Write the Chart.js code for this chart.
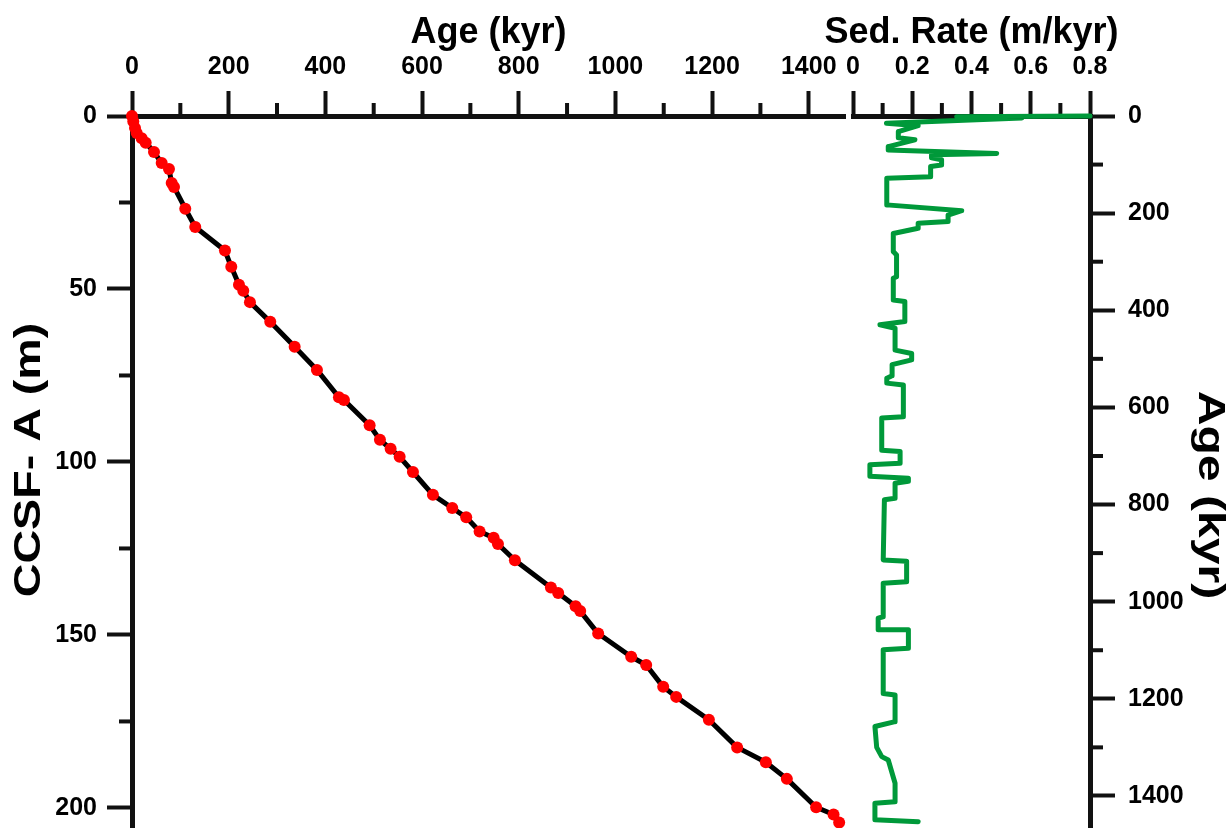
<!DOCTYPE html>
<html><head><meta charset="utf-8">
<script src="https://cdn.jsdelivr.net/npm/chart.js@4.4.0/dist/chart.umd.min.js"></script>
<style>
html,body{margin:0;padding:0;background:#fff;width:1229px;height:828px;overflow:hidden;}
.box{position:absolute;top:0;}
</style></head><body>
<div class="box" style="left:0;width:850px;height:828px"><canvas id="c1" width="850" height="828"></canvas></div>
<div class="box" style="left:800px;width:429px;height:828px"><canvas id="c2" width="429" height="828"></canvas></div>
<script>
// Age model tie points: age (kyr) vs depth CCSF-A (m)
const tieAge = [0, 2.7, 6.2, 9.7, 20, 28.3, 45.5, 61.4, 76.5, 82.1, 86.9, 110.2, 130.9, 192.3, 205.4, 221.3, 230.2, 244, 286, 336.5, 382.6, 428.1, 438.5, 491.6, 512.9, 535, 553.7, 581.2, 622.5, 662.5, 691.4, 719.1, 748.1, 757, 792.1, 866.6, 881.7, 917.7, 927.2, 964.4, 1032.7, 1063.7, 1098.9, 1125.8, 1193.4, 1251.9, 1311.3, 1354.7, 1415.3, 1451.3, 1462.9];
const tieDepth = [0, 1.6, 3.5, 4.9, 6.4, 7.7, 10.4, 13.6, 15.3, 19.4, 20.5, 26.8, 32.1, 38.9, 43.6, 48.8, 50.5, 53.8, 59.5, 66.7, 73.4, 81.3, 82.1, 89.4, 93.6, 96.2, 98.5, 102.9, 109.5, 113.3, 116.0, 120.1, 121.9, 123.7, 128.4, 136.3, 137.9, 141.7, 143.1, 149.6, 156.3, 158.7, 165.0, 167.9, 174.5, 182.5, 186.8, 191.6, 199.8, 201.9, 204.2];

// Sedimentation rate (m/kyr) vs age (kyr), step profile
const sedRate = [0.80, 0.35, 0.57, 0.113, 0.22, 0.153, 0.153, 0.209, 0.119, 0.119, 0.485, 0.265, 0.265, 0.299, 0.299, 0.262, 0.262, 0.114, 0.114, 0.367, 0.321, 0.321, 0.220, 0.220, 0.136, 0.136, 0.147, 0.147, 0.136, 0.136, 0.175, 0.175, 0.091, 0.142, 0.142, 0.198, 0.198, 0.132, 0.132, 0.114, 0.114, 0.170, 0.170, 0.097, 0.097, 0.159, 0.159, 0.057, 0.057, 0.187, 0.187, 0.142, 0.142, 0.106, 0.102, 0.181, 0.181, 0.102, 0.102, 0.085, 0.085, 0.187, 0.187, 0.102, 0.102, 0.142, 0.142, 0.074, 0.080, 0.097, 0.119, 0.142, 0.142, 0.074, 0.074, 0.220];
const sedAge = [0, 1.5, 4, 15, 20, 32, 45, 49, 63, 70, 77, 80, 86, 90, 101, 104, 125, 128, 183, 195, 204, 217, 221, 231, 242, 279, 286, 331, 334, 379, 382, 423, 430, 437, 482, 489, 502, 512, 535, 540, 550, 554, 619, 622, 688, 691, 715, 718, 742, 746, 752, 756, 787, 790, 914, 917, 959, 962, 1031, 1034, 1058, 1058, 1096, 1099, 1189, 1192, 1247, 1257, 1300, 1319, 1326, 1374, 1412, 1415, 1449, 1453];

// Axis ticks
const ageTicks = [0, 200, 400, 600, 800, 1000, 1200, 1400];
const ageTickLabels = ['0', '200', '400', '600', '800', '1000', '1200', '1400'];
const ageMinor = [100, 300, 500, 700, 900, 1100, 1300];
const depthTicks = [0, 50, 100, 150, 200];
const depthTickLabels = ['0', '50', '100', '150', '200'];
const depthMinor = [25, 75, 125, 175];
const sedTicks = [0, 0.2, 0.4, 0.6, 0.8];
const sedTickLabels = ['0', '0.2', '0.4', '0.6', '0.8'];
const sedMinor = [0.1, 0.3, 0.5, 0.7];

const AX = '#111';
const FONT = '"Liberation Sans", Arial, sans-serif';
const tickFont = {family: FONT, size: 25, weight: 'bold'};

function fixedTicks(values) {
  return function(scale) { scale.ticks = values.map(v => ({value: v})); };
}
function labelsFrom(values, labels) {
  return function(value) { const i = values.indexOf(value); return i >= 0 ? labels[i] : ''; };
}

const minorTicks = {
  id: 'minorTicks',
  beforeDatasetsDraw(chart, args, opts) {
    const ctx = chart.ctx;
    ctx.save();
    ctx.strokeStyle = AX; ctx.lineWidth = 4;
    for (const id of Object.keys(opts.sets || {})) {
      const s = chart.scales[id];
      for (const v of opts.sets[id]) {
        const p = s.getPixelForValue(v);
        ctx.beginPath();
        if (s.position === 'top') { ctx.moveTo(p, s.bottom); ctx.lineTo(p, s.bottom - 13); }
        else if (s.position === 'left') { ctx.moveTo(s.right, p); ctx.lineTo(s.right - 13, p); }
        else { ctx.moveTo(s.left, p); ctx.lineTo(s.left + 13, p); }
        ctx.stroke();
      }
    }
    ctx.restore();
  }
};

// Axis titles drawn as canvas text, positioned relative to the scales
const axisTitles = {
  id: 'axisTitles',
  afterDraw(chart, args, opts) {
    const ctx = chart.ctx;
    for (const t of (opts.items || [])) {
      const s = chart.scales[t.scale];
      ctx.save();
      ctx.fillStyle = '#000';
      ctx.font = 'bold ' + t.size + 'px ' + FONT;
      ctx.textAlign = 'center';
      ctx.textBaseline = 'middle';
      let x, y, rot = 0;
      if (s.position === 'top') { x = (s.left + s.right) / 2; y = s.top + t.offset; }
      else if (s.position === 'left') { x = s.left + t.offset; y = (s.top + s.bottom) / 2 + t.shift; rot = -Math.PI / 2; }
      else { x = s.right - t.offset; y = (s.top + s.bottom) / 2 + t.shift; rot = Math.PI / 2; }
      ctx.translate(x, y);
      ctx.rotate(rot);
      ctx.scale(t.stretch || 1, 1);
      ctx.fillText(t.text, 0, 0);
      ctx.restore();
    }
  }
};

function axisCommon() {
  return {
    grid: {display: true, drawOnChartArea: false, drawTicks: true, tickLength: 25, tickWidth: 4, tickColor: AX},
    border: {display: true, width: 5, color: AX},
  };
}

new Chart(document.getElementById('c1'), {
  type: 'line',
  data: {datasets: [{
    data: tieAge.map((a, i) => ({x: a, y: tieDepth[i]})),
    borderColor: '#000', borderWidth: 5, borderJoinStyle: 'round',
    pointRadius: 6, pointBackgroundColor: '#ff0000', pointBorderColor: '#ff0000', pointBorderWidth: 0,
    tension: 0, clip: false
  }]},
  options: {
    responsive: false, animation: false,
    layout: {autoPadding: false, padding: {left: 0, right: 5, top: 0, bottom: 0}},
    plugins: {
      legend: {display: false}, tooltip: {enabled: false},
      minorTicks: {sets: {x: ageMinor, y: depthMinor}},
      axisTitles: {items: [
        {scale: 'x', text: 'Age (kyr)', size: 36, offset: 33},
        {scale: 'y', text: 'CCSF- A (m)', size: 37, offset: 30, shift: -12, stretch: 1.26}
      ]}
    },
    scales: {
      x: Object.assign(axisCommon(), {
        type: 'linear', position: 'top', min: 0, max: 1475,
        afterBuildTicks: fixedTicks(ageTicks),
        afterFit: s => { s.height = 116; s.paddingLeft = 0; s.paddingRight = 0; },
        ticks: {font: tickFont, color: '#000', padding: 9, maxRotation: 0, autoSkip: false, callback: labelsFrom(ageTicks, ageTickLabels)}
      }),
      y: Object.assign(axisCommon(), {
        type: 'linear', position: 'left', reverse: true, min: 0, max: 205.8,
        afterBuildTicks: fixedTicks(depthTicks),
        afterFit: s => { s.width = 132; s.paddingTop = 0; s.paddingBottom = 0; },
        ticks: {font: tickFont, color: '#000', padding: 10, autoSkip: false, callback: labelsFrom(depthTicks, depthTickLabels)}
      })
    }
  },
  plugins: [minorTicks, axisTitles]
});

new Chart(document.getElementById('c2'), {
  type: 'line',
  data: {datasets: [{
    data: sedRate.map((r, i) => ({x: r, y: sedAge[i]})),
    borderColor: '#00993a', borderWidth: 5, borderJoinStyle: 'round', borderCapStyle: 'round',
    pointRadius: 0, tension: 0, clip: false
  }]},
  options: {
    responsive: false, animation: false,
    layout: {autoPadding: false, padding: {left: 53, right: 0, top: 0, bottom: 0}},
    plugins: {
      legend: {display: false}, tooltip: {enabled: false},
      minorTicks: {sets: {x: sedMinor, y: ageMinor}},
      axisTitles: {items: [
        {scale: 'x', text: 'Sed. Rate (m/kyr)', size: 36, offset: 33},
        {scale: 'y', text: 'Age (kyr)', size: 37, offset: 20, shift: 23, stretch: 1.3}
      ]}
    },
    scales: {
      x: Object.assign(axisCommon(), {
        type: 'linear', position: 'top', min: 0, max: 0.8,
        afterBuildTicks: fixedTicks(sedTicks),
        afterFit: s => { s.height = 116; s.paddingLeft = 0; s.paddingRight = 0; },
        ticks: {font: tickFont, color: '#000', padding: 9, maxRotation: 0, autoSkip: false, callback: labelsFrom(sedTicks, sedTickLabels)}
      }),
      y: Object.assign(axisCommon(), {
        type: 'linear', position: 'right', reverse: true, min: 0, max: 1466,
        afterBuildTicks: fixedTicks(ageTicks),
        afterFit: s => { s.width = 139; s.paddingTop = 0; s.paddingBottom = 0; },
        ticks: {font: tickFont, color: '#000', padding: 13, autoSkip: false, callback: labelsFrom(ageTicks, ageTickLabels)}
      })
    }
  },
  plugins: [minorTicks, axisTitles]
});
</script>
</body></html>
